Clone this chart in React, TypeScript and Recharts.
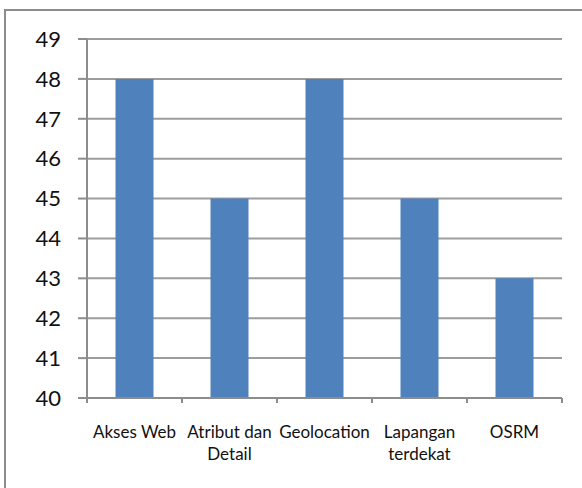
import { BarChart, Bar, CartesianGrid, XAxis, YAxis } from "recharts";

const categories = ["Akses Web", "Atribut dan\nDetail", "Geolocation", "Lapangan\nterdekat", "OSRM"];
const values = [48, 45, 48, 45, 43];
const yTicks = [40, 41, 42, 43, 44, 45, 46, 47, 48, 49];

const data = categories.map((name, i) => ({ name, value: values[i] }));

const axisGray = "#8c8c8c";
const gridGray = "#9d9d9d";
const barBlue = "#4f81bd";
const font = "Lato, 'Open Sans', sans-serif";

function CategoryTick(props: any) {
  const { x, y, payload, index, visibleTicksCount } = props;
  const band = 95;
  const axisY = y - 8;
  const lines = String(payload.value).split("\n");
  const isLast = index === visibleTicksCount - 1;
  return (
    <g>
      <line x1={x - band / 2} x2={x - band / 2} y1={axisY} y2={axisY + 5} stroke={axisGray} strokeWidth={2} />
      {isLast && (
        <line x1={x + band / 2} x2={x + band / 2} y1={axisY} y2={axisY + 5} stroke={axisGray} strokeWidth={2} />
      )}
      <text x={x} y={axisY + 40} textAnchor="middle" fontSize={17} fontFamily={font} fill="#111">
        {lines.map((l, i) => (
          <tspan key={i} x={x} dy={i === 0 ? 0 : 22}>
            {l}
          </tspan>
        ))}
      </text>
    </g>
  );
}

export default function App() {
  return (
    <div style={{ position: "absolute", left: 0, top: 0, width: 582, height: 488, background: "#fff", overflow: "hidden" }}>
      <div
        style={{
          position: "absolute",
          left: 4,
          top: 9,
          width: 700,
          height: 600,
          borderLeft: `2px solid ${axisGray}`,
          borderTop: `2px solid ${axisGray}`,
        }}
      />
      <div style={{ position: "absolute", left: 0, top: 0 }}>
        <BarChart
          width={582}
          height={488}
          data={data}
          margin={{ top: 39, right: 20, bottom: 50, left: 0 }}
          barCategoryGap="30%"
        >
          <CartesianGrid vertical={false} stroke={gridGray} strokeWidth={2} />
          <XAxis
            dataKey="name"
            height={40}
            interval={0}
            tickLine={false}
            axisLine={{ stroke: axisGray, strokeWidth: 2 }}
            tick={<CategoryTick />}
          />
          <YAxis
            width={87}
            domain={[40, 49]}
            ticks={yTicks}
            interval={0}
            tickSize={9}
            tickMargin={17}
            axisLine={{ stroke: axisGray, strokeWidth: 2 }}
            tickLine={{ stroke: axisGray, strokeWidth: 2 }}
            tick={{ fill: "#111", fontSize: 22, fontFamily: font }}
          />
          <Bar dataKey="value" fill={barBlue} isAnimationActive={false} />
        </BarChart>
      </div>
    </div>
  );
}
